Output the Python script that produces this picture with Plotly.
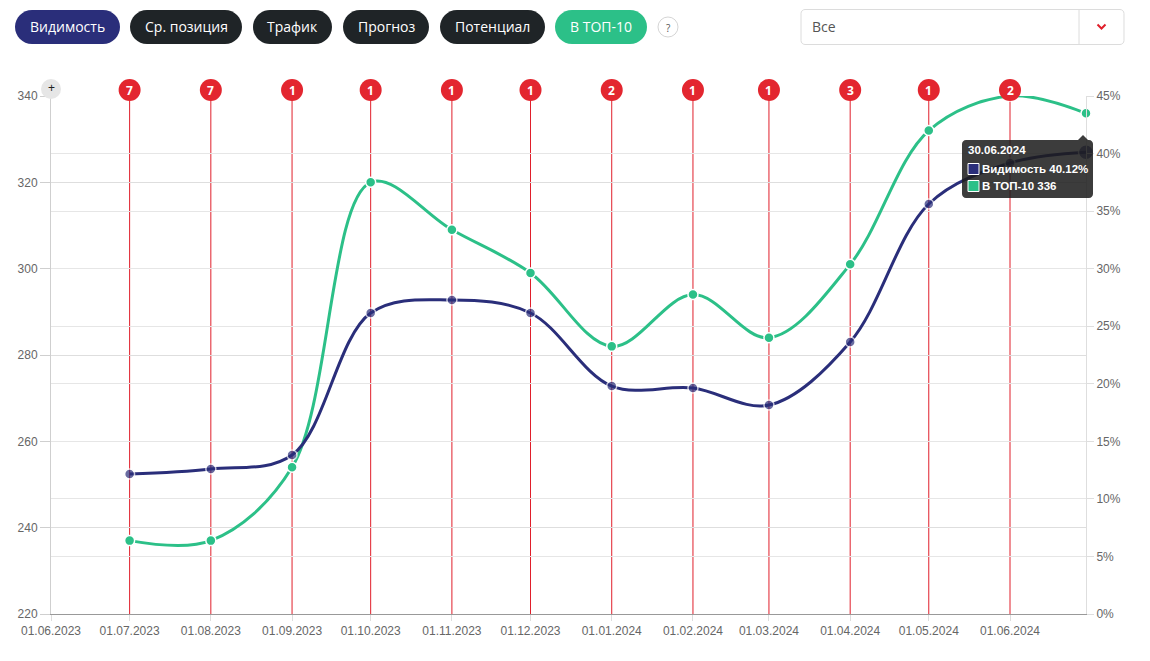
import plotly.graph_objects as go

# ---------------- data ----------------
dates = ["2023-07-01", "2023-08-01", "2023-09-01", "2023-10-01", "2023-11-01", "2023-12-01",
         "2024-01-01", "2024-02-01", "2024-03-01", "2024-04-01", "2024-05-01", "2024-06-01",
         "2024-06-30"]
visibility = [12.16, 12.59, 13.81, 26.15, 27.28, 26.15, 19.8, 19.63, 18.15, 23.63, 35.62, 39.18, 40.12]
top10 = [237, 237, 254, 320, 309, 299, 282, 294, 284, 301, 332, 340, 336]

event_dates = ["2023-07-01", "2023-08-01", "2023-09-01", "2023-10-01", "2023-11-01", "2023-12-01",
               "2024-01-01", "2024-02-01", "2024-03-01", "2024-04-01", "2024-05-01", "2024-06-01"]
event_counts = [7, 7, 1, 1, 1, 1, 2, 1, 1, 3, 1, 2]

tick_dates = ["2023-06-01", "2023-07-01", "2023-08-01", "2023-09-01", "2023-10-01", "2023-11-01",
              "2023-12-01", "2024-01-01", "2024-02-01", "2024-03-01", "2024-04-01", "2024-05-01",
              "2024-06-01"]
tick_labels = ["01.06.2023", "01.07.2023", "01.08.2023", "01.09.2023", "01.10.2023", "01.11.2023",
               "01.12.2023", "01.01.2024", "01.02.2024", "01.03.2024", "01.04.2024", "01.05.2024",
               "01.06.2024"]

buttons = ["Видимость", "Ср. позиция", "Трафик", "Прогноз", "Потенциал", "В ТОП-10"]

NAVY = "#2a2e7a"
GREEN = "#2cc088"
RED = "#e01f2b"
DARK = "#1f2427"

W, H = 1150, 661
L, R, T, B = 51, 64, 96, 47
PW, PH = W - L - R, H - T - B


def px(x):
    return (x - L) / PW


def py(y):
    return (H - B - y) / PH


def rrect(x0, y0, x1, y1, r):
    k = 0.5523 * r

    def P(x, y):
        return f"{px(x):.5f},{py(y):.5f}"
    d = (f"M{P(x0 + r, y0)} L{P(x1 - r, y0)} "
         f"C{P(x1 - r + k, y0)} {P(x1, y0 + r - k)} {P(x1, y0 + r)} "
         f"L{P(x1, y1 - r)} "
         f"C{P(x1, y1 - r + k)} {P(x1 - r + k, y1)} {P(x1 - r, y1)} "
         f"L{P(x0 + r, y1)} "
         f"C{P(x0 + r - k, y1)} {P(x0, y1 - r + k)} {P(x0, y1 - r)} "
         f"L{P(x0, y0 + r)} "
         f"C{P(x0, y0 + r - k)} {P(x0 + r - k, y0)} {P(x0 + r, y0)} Z")
    return d


def label(x, y, text, size, color, family="Open Sans", xanchor="center"):
    return dict(x=px(x), y=py(y), xref="paper", yref="paper", showarrow=False,
                xanchor=xanchor, yanchor="middle", text=text,
                font=dict(color=color, size=size, family=family))


fig = go.Figure()

marker_sizes = [10] * (len(dates) - 1) + [15]

fig.add_trace(go.Scatter(
    x=dates, y=top10, name="В ТОП-10", yaxis="y", cliponaxis=False,
    mode="lines+markers", line=dict(color=GREEN, width=3, shape="spline", smoothing=1.0),
    marker=dict(size=10, color=GREEN, line=dict(color="white", width=1.5)),
))
fig.add_trace(go.Scatter(
    x=dates, y=visibility, name="Видимость", yaxis="y2", cliponaxis=False,
    mode="lines+markers", line=dict(color=NAVY, width=3, shape="spline", smoothing=1.0),
    marker=dict(size=marker_sizes, color=NAVY, line=dict(color="white", width=1.5)),
))

shapes = []
annotations = []

# event vertical lines + badges
for d in event_dates:
    shapes.append(dict(type="line", xref="x", yref="paper", x0=d, x1=d, y0=0, y1=1,
                       line=dict(color=RED, width=1), layer="below"))
for d, c in zip(event_dates, event_counts):
    shapes.append(dict(type="circle", xref="x", yref="paper", xsizemode="pixel", ysizemode="pixel",
                       xanchor=d, yanchor=1, x0=-11, x1=11, y0=-5, y1=17,
                       fillcolor="#e3262f", line=dict(width=0), layer="above"))
    annotations.append(dict(x=d, y=1, xref="x", yref="paper", yshift=6, showarrow=False,
                            xanchor="center", yanchor="middle",
                            text=f"<b>{c}</b>", font=dict(color="white", size=12, family="Open Sans")))

# zoom "+" circle
shapes.append(dict(type="circle", xref="paper", yref="paper", x0=px(41), x1=px(61), y0=py(99), y1=py(79),
                   fillcolor="#e6e6e6", line=dict(width=0), layer="above"))
annotations.append(label(51, 88.5, "+", 12, "#222", "Liberation Sans"))

# top buttons
btn_bounds = [(15, 120), (130, 242), (253, 332), (343, 429), (440, 545), (555, 647)]
btn_colors = [NAVY, DARK, DARK, DARK, DARK, GREEN]
for name, (bx0, bx1), col in zip(buttons, btn_bounds, btn_colors):
    shapes.append(dict(type="path", xref="paper", yref="paper", path=rrect(bx0, 10, bx1, 44, 17),
                       fillcolor=col, line=dict(width=0), layer="above"))
    annotations.append(label((bx0 + bx1) / 2, 27, name, 14, "white"))

# help "?"
shapes.append(dict(type="circle", xref="paper", yref="paper", x0=px(658), x1=px(678), y0=py(37), y1=py(17),
                   fillcolor="white", line=dict(color="#d5d5d5", width=1), layer="above"))
annotations.append(label(668, 27.5, "?", 10, "#555"))

# dropdown
shapes.append(dict(type="path", xref="paper", yref="paper", path=rrect(801, 9.5, 1124, 44.5, 4),
                   fillcolor="white", line=dict(color="#dcdcdc", width=1), layer="above"))
shapes.append(dict(type="line", xref="paper", yref="paper", x0=px(1079), x1=px(1079), y0=py(10), y1=py(44),
                   line=dict(color="#dcdcdc", width=1), layer="above"))
shapes.append(dict(type="path", xref="paper", yref="paper",
                   path=f"M{px(1097.5)},{py(24.5)} L{px(1101.5)},{py(28.5)} L{px(1105.5)},{py(24.5)}",
                   line=dict(color=RED, width=2), layer="above"))
annotations.append(label(810, 27, "Все", 14, "#555", xanchor="left"))

# tooltip
shapes.append(dict(type="path", xref="paper", yref="paper",
                   path=rrect(962, 140, 1093, 198, 4),
                   fillcolor="rgba(28,28,28,0.86)", line=dict(width=0), layer="above"))
shapes.append(dict(type="path", xref="paper", yref="paper",
                   path=f"M{px(1078)},{py(140)} L{px(1083)},{py(135)} L{px(1088)},{py(140)} Z",
                   fillcolor="rgba(28,28,28,0.86)", line=dict(width=0), layer="above"))
for sy, col in [(163.5, NAVY), (180.5, GREEN)]:
    shapes.append(dict(type="rect", xref="paper", yref="paper", x0=px(968), x1=px(979),
                       y0=py(sy + 11), y1=py(sy), fillcolor=col, line=dict(color="white", width=1),
                       layer="above"))
annotations.append(label(966, 150.5, "<b>30.06.2024</b>", 11.5, "white", "Liberation Sans", "left"))
annotations.append(label(979.5, 169, f"<b>Видимость {visibility[-1]:.2f}%</b>", 11.5, "white",
                         "Liberation Sans", "left"))
annotations.append(label(979.5, 186, f"<b>В ТОП-10 {top10[-1]}</b>", 11.5, "white", "Liberation Sans", "left"))

fig.update_layout(
    width=W, height=H,
    margin=dict(l=L, r=R, t=T, b=B),
    paper_bgcolor="white", plot_bgcolor="white",
    showlegend=False, hovermode=False,
    font=dict(family="Liberation Sans", size=12, color="#666"),
    xaxis=dict(type="date", range=["2023-06-01", "2024-06-30"], tickvals=tick_dates, ticktext=tick_labels,
               showgrid=False, showline=True, linecolor="#999", linewidth=1,
               ticks="outside", ticklen=6, tickcolor="#ddd", zeroline=False,
               tickfont=dict(size=12, color="#666")),
    yaxis=dict(range=[220, 340], dtick=20, showgrid=True, gridcolor="#dedede", gridwidth=1,
               showline=True, linecolor="#cfcfcf", ticks="outside", ticklen=10, tickcolor="#cfcfcf",
               zeroline=False, tickfont=dict(size=12, color="#666"), ticklabelstandoff=0),
    yaxis2=dict(range=[0, 45], dtick=5, ticksuffix="%", overlaying="y", side="right",
                showgrid=True, gridcolor="#e6e6e6", gridwidth=1, showline=True, linecolor="#dedede",
                ticks="outside", ticklen=7, tickcolor="#dedede", zeroline=False,
                tickfont=dict(size=12, color="#666"), ticklabelstandoff=0),
    shapes=shapes,
    annotations=annotations,
)

fig.write_html("out.html")
